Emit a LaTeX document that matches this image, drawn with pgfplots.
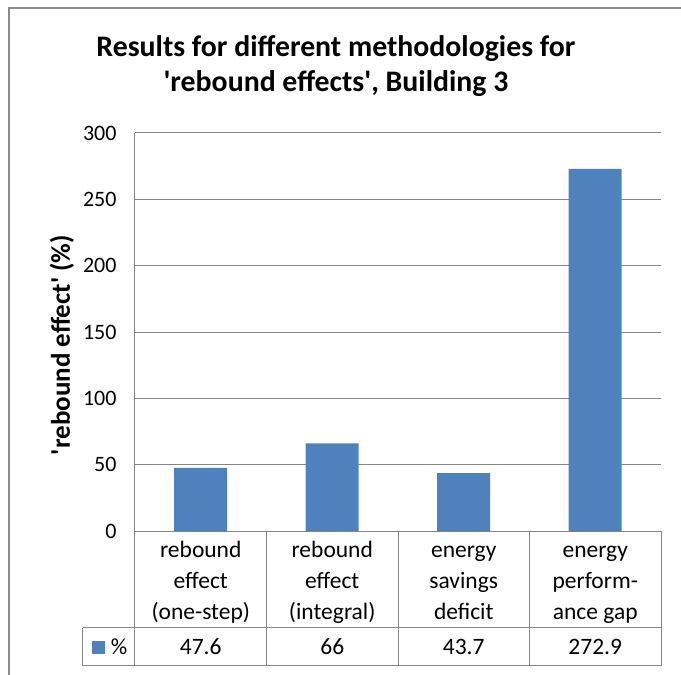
\documentclass[border=0pt]{standalone}
\usepackage{pgfplots}
\pgfplotsset{compat=1.18}
\usepackage{fontspec}
\setmainfont{Carlito}
\definecolor{barblue}{HTML}{4F81BD}
\definecolor{gridgray}{HTML}{868686}
\definecolor{bordergray}{HTML}{8C8C8C}
\begin{document}
\begin{tikzpicture}[x=1pt,y=1pt]
\useasboundingbox (-135,-144) rectangle (546,531);
\draw[bordergray, line width=1.3pt] (-126,-144) -- (-126,523) -- (546,523);
\begin{axis}[
  scale only axis, width=526pt, height=398pt,
  ymin=0, ymax=300, ytick={0,50,...,300},
  xmin=-0.5, xmax=3.5, xtick={0,1,2,3},
  xticklabels={\strut rebound\\effect\\(one-step), \strut rebound\\effect\\(integral), \strut energy\\savings\\deficit, \strut energy\\perform-\\ance gap},
  axis lines*=left,
  axis line style={gridgray, line width=1pt},
  ymajorgrids, major grid style={gridgray, line width=1pt},
  major tick length=0pt, tick style={draw=none},
  ybar, bar width=53pt,
  /pgf/number format/assume math mode=true,
  yticklabel style={font=\fontsize{22}{26}\selectfont, xshift=-15pt},
  xticklabel style={font=\fontsize{23.5}{31}\selectfont, align=center, yshift=-1pt},
  title={Results for different methodologies for\\\textquotesingle rebound effects\textquotesingle, Building 3},
  title style={font=\bfseries\fontsize{29.8}{35}\selectfont, align=center, at={(axis description cs:0.382,1.152)}, anchor=center},
  legend style={draw=none, fill=none, at={(axis description cs:-0.0462,-0.2935)}, anchor=center, font=\fontsize{23}{26}\selectfont, inner sep=0pt},
  legend image code/.code={\fill[barblue] (0pt,-6.5pt) rectangle (13pt,6.5pt);},
]
\addplot[fill=barblue, draw=none] coordinates {(0,47.6) (1,66) (2,43.7) (3,272.9)};
\addlegendentry{\hspace{4pt}\%}
\end{axis}
\node[rotate=90, font=\bfseries\fontsize{27}{30}\selectfont] at (-73,186) {\textquotesingle rebound effect\textquotesingle\ (\%)};
\begin{scope}[gridgray, line width=1pt]
\draw (0,0) -- (0,-135);
\draw (131.5,0) -- (131.5,-135);
\draw (263,0) -- (263,-135);
\draw (394.5,0) -- (394.5,-135);
\draw (526,0) -- (526,-135);
\draw (-52,-97) -- (526,-97);
\draw (-52,-135) -- (526,-135);
\draw (-52,-97) -- (-52,-135);
\end{scope}
\begin{scope}[font=\fontsize{23.5}{26}\selectfont]
\node[anchor=base] at (65.75,-124) {47.6};
\node[anchor=base] at (197.25,-124) {66};
\node[anchor=base] at (328.75,-124) {43.7};
\node[anchor=base] at (460.25,-124) {272.9};
\end{scope}
\end{tikzpicture}
\end{document}
